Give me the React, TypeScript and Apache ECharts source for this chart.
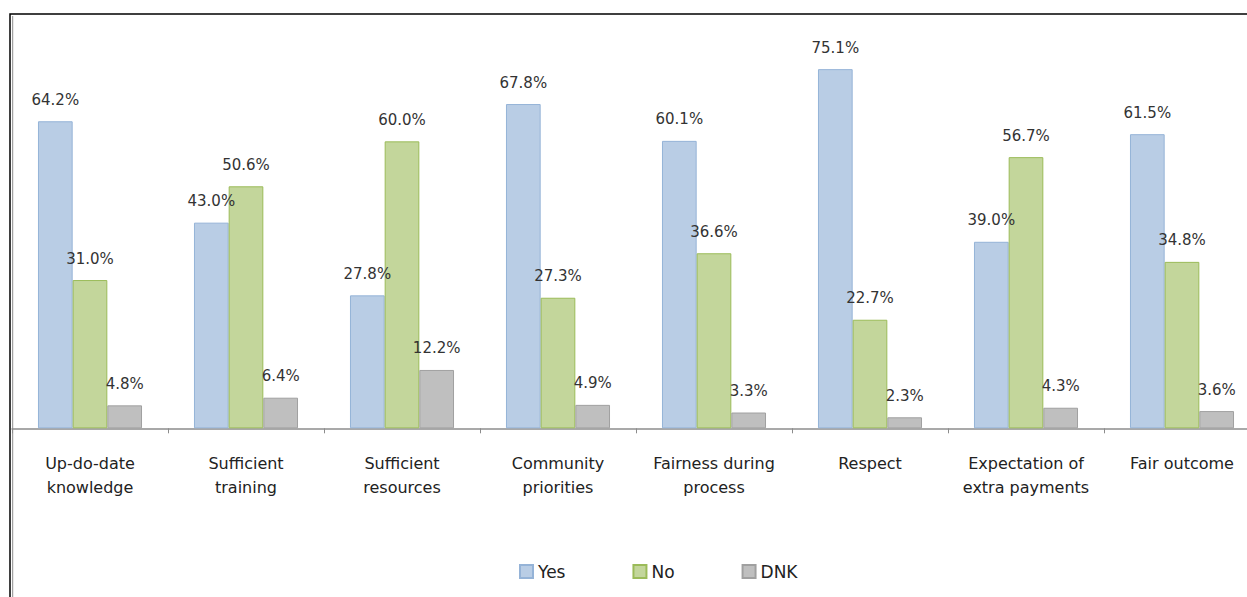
import React, { useEffect, useRef } from "react";
import * as echarts from "echarts";

const categories = [
  "Up-do-date\nknowledge",
  "Sufficient\ntraining",
  "Sufficient\nresources",
  "Community\npriorities",
  "Fairness during\nprocess",
  "Respect",
  "Expectation of\nextra payments",
  "Fair outcome",
];
const yesValues = [64.2, 43.0, 27.8, 67.8, 60.1, 75.1, 39.0, 61.5];
const noValues = [31.0, 50.6, 60.0, 27.3, 36.6, 22.7, 56.7, 34.8];
const dnkValues = [4.8, 6.4, 12.2, 4.9, 3.3, 2.3, 4.3, 3.6];
const seriesNames = ["Yes", "No", "DNK"];

export default function App() {
  const ref = useRef<HTMLDivElement>(null);
  useEffect(() => {
    if (!ref.current) return;
    const chart = echarts.init(ref.current, null, { renderer: "svg" });
    const font = "DejaVu Sans";
    const mk = (name: string, data: number[], fill: string, border: string) => ({
      name,
      type: "bar",
      data,
      barGap: "0%",
      barCategoryGap: "33.3%",
      itemStyle: { color: fill, borderColor: border, borderWidth: 1 },
      label: {
        show: true,
        position: "top",
        distance: 14,
        formatter: (p: any) => p.value.toFixed(1) + "%",
        fontFamily: font,
        fontSize: 15,
        color: "#333333",
      },
    });
    chart.setOption({
      animation: false,
      backgroundColor: "#ffffff",
      grid: { left: 12, right: 0, top: 45.7, bottom: 168.7, containLabel: false },
      xAxis: {
        type: "category",
        data: categories,
        axisLine: { show: true, lineStyle: { color: "#8c8c8c", width: 1.5 } },
        axisTick: { show: true, length: 5, lineStyle: { color: "#8c8c8c" } },
        axisLabel: {
          interval: 0,
          margin: 23,
          fontFamily: font,
          fontSize: 16,
          lineHeight: 24,
          color: "#222222",
        },
      },
      yAxis: {
        type: "value",
        min: 0,
        max: 80,
        show: false,
        splitLine: { show: false },
      },
      legend: {
        data: seriesNames,
        left: 519,
        top: 563,
        padding: 0,
        itemWidth: 13,
        itemHeight: 13,
        itemGap: 67,
        icon: "rect",
        textStyle: { fontFamily: font, fontSize: 17, color: "#222222" },
      },
      graphic: [
        {
          type: "rect",
          shape: { x: 10, y: 14, width: 1300, height: 700 },
          style: { fill: "none", stroke: "#000000", lineWidth: 1.5 },
          silent: true,
        },
        {
          type: "line",
          shape: { x1: 12.7, y1: 16, x2: 12.7, y2: 600 },
          style: { stroke: "#8c8c8c", lineWidth: 1 },
          silent: true,
        },
      ],
      series: [
        mk(seriesNames[0], yesValues, "#B9CDE5", "#95B3D7"),
        mk(seriesNames[1], noValues, "#C3D69B", "#9BBB59"),
        mk(seriesNames[2], dnkValues, "#BFBFBF", "#A0A0A0"),
      ],
    });
    return () => chart.dispose();
  }, []);
  return (
    <div
      style={{
        position: "absolute",
        left: 0,
        top: 0,
        width: 1247,
        height: 597,
        overflow: "hidden",
      }}
    >
      <div ref={ref} style={{ width: 1260, height: 597 }} />
    </div>
  );
}
